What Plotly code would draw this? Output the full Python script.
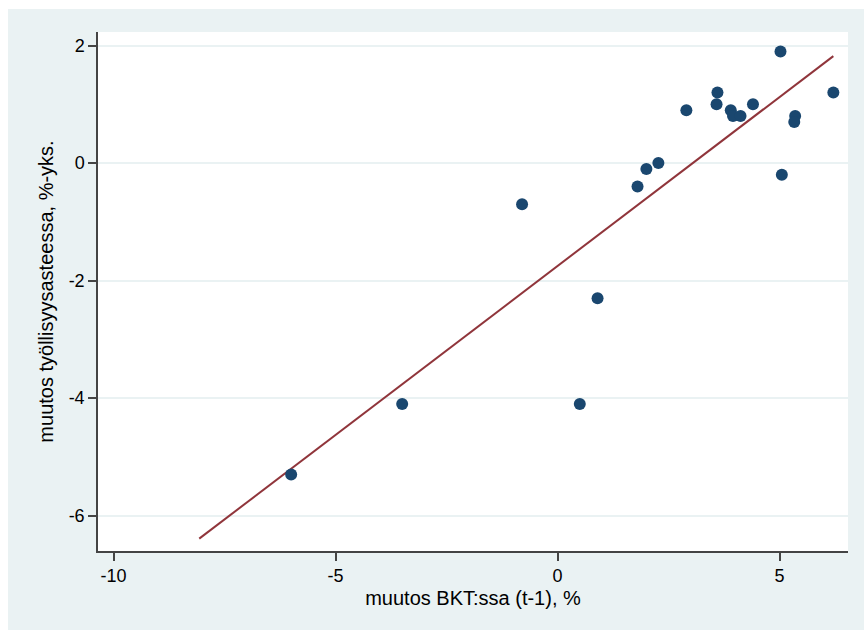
import plotly.graph_objects as go

# Data
gdp_change = [-6.0, -3.5, -0.8, 0.5, 0.9, 1.8, 2.0, 2.27, 2.9, 3.58, 3.6, 3.9, 3.95, 4.12, 4.4, 5.02, 5.05, 5.35, 5.33, 6.21]
emp_change = [-5.3, -4.1, -0.7, -4.1, -2.3, -0.4, -0.1, 0.0, 0.9, 1.0, 1.2, 0.9, 0.8, 0.8, 1.0, 1.9, -0.2, 0.8, 0.7, 1.2]
fit_x = [-8.07, 6.21]
fit_y = [-6.39, 1.82]
x_ticks = [-10, -5, 0, 5]
y_ticks = [-6, -4, -2, 0, 2]

W, H = 864, 630
ML, MR, MT, MB = 98, 16, 32, 79
PW, PH = W - ML - MR, H - MT - MB

BG = "#EAF2F3"
FONT = "Liberation Sans, Arial, sans-serif"

fig = go.Figure()
fig.add_trace(go.Scatter(
    x=fit_x, y=fit_y, mode="lines",
    line=dict(color="#90353B", width=2), hoverinfo="skip", showlegend=False))
fig.add_trace(go.Scatter(
    x=gdp_change, y=emp_change, mode="markers",
    marker=dict(color="#1A476F", size=12, line=dict(width=0)), showlegend=False))

# white strips at top and left edge of the picture
def px_x(p):
    return (p - ML) / PW

def px_y(p):
    return 1 - (p - MT) / PH

fig.add_shape(type="rect", xref="paper", yref="paper",
              x0=px_x(0), x1=px_x(8), y0=px_y(H), y1=px_y(0),
              fillcolor="white", line=dict(width=0), layer="above")
fig.add_shape(type="rect", xref="paper", yref="paper",
              x0=px_x(0), x1=px_x(W), y0=px_y(9), y1=px_y(0),
              fillcolor="white", line=dict(width=0), layer="above")

fig.update_layout(
    width=W, height=H,
    margin=dict(l=ML, r=MR, t=MT, b=MB, pad=0),
    paper_bgcolor=BG, plot_bgcolor="white",
    font=dict(family=FONT, size=18, color="black"),
    xaxis=dict(
        range=[-10.35, 6.54], tickvals=x_ticks, ticktext=[str(v) for v in x_ticks],
        showgrid=False, zeroline=False,
        showline=True, linecolor="#444444", linewidth=1.5,
        ticks="outside", ticklen=8, tickcolor="#444444", tickwidth=1.5,
        tickfont=dict(size=18),
        title=dict(text="muutos BKT:ssa (t-1), %", font=dict(size=20), standoff=6),
    ),
    yaxis=dict(
        range=[-6.60, 2.23], tickvals=y_ticks, ticktext=[str(v) for v in y_ticks],
        showgrid=True, gridcolor=BG, gridwidth=2, zeroline=False,
        showline=True, linecolor="#444444", linewidth=1.5,
        ticks="outside", ticklen=8, tickcolor="#444444", tickwidth=1.5,
        tickfont=dict(size=18),
        title=dict(text="muutos työllisyysasteessa, %-yks.", font=dict(size=20), standoff=10),
    ),
)

fig.write_html("out.html")
